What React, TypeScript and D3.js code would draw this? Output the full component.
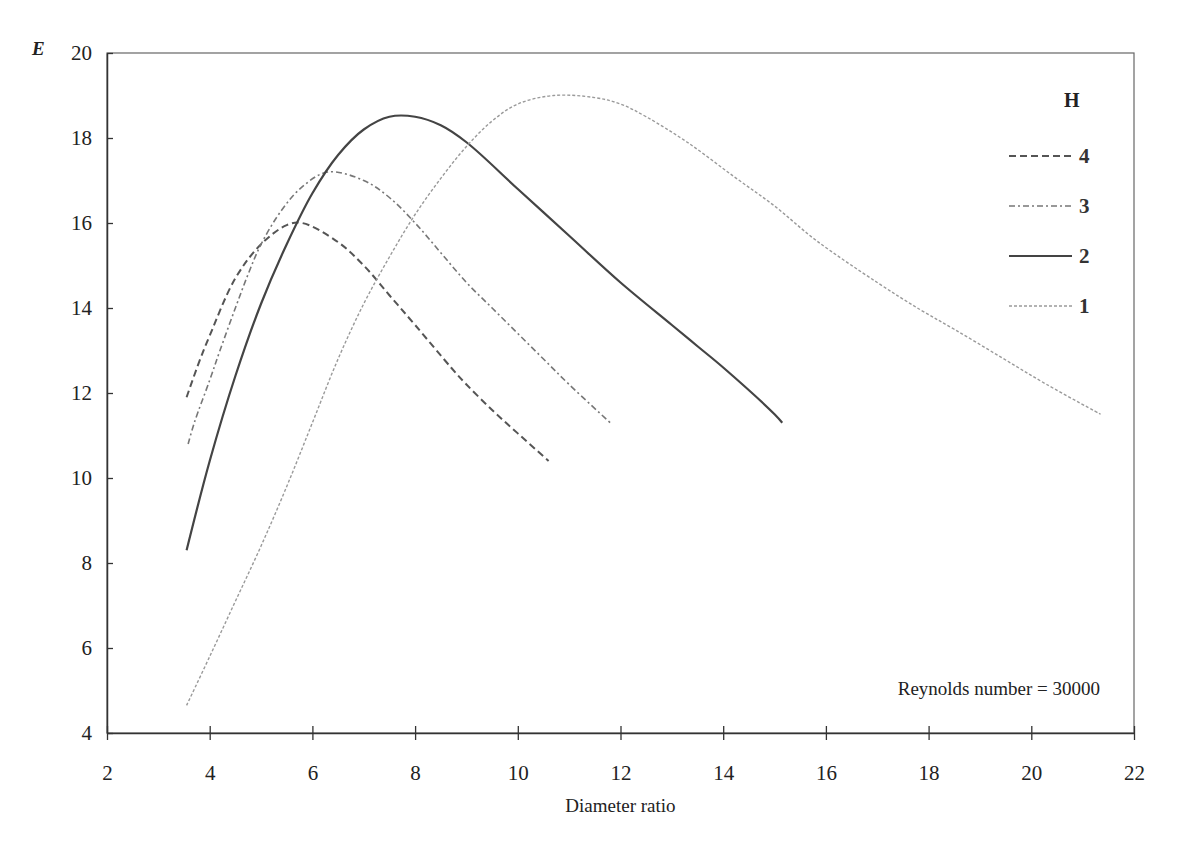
import { useEffect, useRef } from 'react';
import * as d3 from 'd3';

const W = 1185, H = 867;
const M = { left: 107, right: 51, top: 53, bottom: 134 };

// Diameter ratio / E readings per H curve
const h4X = [3.55, 3.8, 4.0, 4.5, 5.0, 5.5, 5.8, 6.5, 7.0, 7.5, 8.0, 8.7, 9.0, 9.5, 10.0, 10.6];
const h4Y = [11.9, 12.75, 13.35, 14.7, 15.5, 15.95, 16.0, 15.55, 15.0, 14.3, 13.6, 12.6, 12.2, 11.6, 11.05, 10.4];

const h3X = [3.58, 3.7, 4.0, 4.2, 4.5, 4.75, 5.0, 5.4, 5.8, 6.3, 7.0, 7.5, 8.0, 8.5, 9.0, 9.5, 10.0, 10.5, 11.0, 11.8];
const h3Y = [10.8, 11.3, 12.3, 13.0, 14.0, 14.8, 15.5, 16.3, 16.85, 17.2, 17.0, 16.6, 16.0, 15.3, 14.6, 14.0, 13.4, 12.8, 12.2, 11.3];

const h2X = [3.55, 4.0, 4.5, 5.0, 5.5, 6.0, 6.5, 7.0, 7.5, 8.0, 8.5, 9.0, 10.0, 11.0, 12.0, 13.0, 13.5, 14.0, 15.0, 15.15];
const h2Y = [8.3, 10.4, 12.4, 14.1, 15.5, 16.7, 17.6, 18.2, 18.5, 18.5, 18.3, 17.9, 16.8, 15.7, 14.6, 13.6, 13.1, 12.6, 11.5, 11.3];

const h1X = [3.55, 4.0, 4.5, 5.0, 5.5, 6.0, 6.5, 7.0, 7.5, 8.0, 8.5, 9.0, 9.5, 10.0, 10.7, 11.5, 12.0, 12.5, 13.3, 14.2, 15.0, 15.8, 17.0, 17.85, 18.5, 19.4, 20.3, 21.35];
const h1Y = [4.65, 5.8, 7.1, 8.4, 9.8, 11.3, 12.8, 14.1, 15.2, 16.2, 17.05, 17.8, 18.4, 18.8, 19.0, 18.95, 18.8, 18.5, 17.9, 17.1, 16.4, 15.6, 14.6, 13.95, 13.5, 12.85, 12.2, 11.5];

const xTicks = [2, 4, 6, 8, 10, 12, 14, 16, 18, 20, 22];
const yTicks = [4, 6, 8, 10, 12, 14, 16, 18, 20];

const series = [
  { name: '4', xs: h4X, ys: h4Y, color: '#555', width: 2, dash: '7,4' },
  { name: '3', xs: h3X, ys: h3Y, color: '#777', width: 1.6, dash: '6,3,2,3' },
  { name: '2', xs: h2X, ys: h2Y, color: '#444', width: 2.2, dash: null },
  { name: '1', xs: h1X, ys: h1Y, color: '#9a9a9a', width: 1.4, dash: '3,2' },
];

const FONT = '"Liberation Serif", "DejaVu Serif", serif';

export default function App() {
  const ref = useRef<SVGSVGElement>(null);

  useEffect(() => {
    const svg = d3.select(ref.current);
    svg.selectAll('*').remove();

    const x = d3.scaleLinear().domain([2, 22]).range([M.left, W - M.right]);
    const y = d3.scaleLinear().domain([4, 20]).range([H - M.bottom, M.top]);

    // frame
    svg.append('rect')
      .attr('x', x(2)).attr('y', y(20))
      .attr('width', x(22) - x(2)).attr('height', y(4) - y(20))
      .attr('fill', 'none').attr('stroke', '#666').attr('stroke-width', 1.2);

    // x axis
    const gx = svg.append('g')
      .attr('transform', `translate(0,${y(4)})`)
      .call(d3.axisBottom(x).tickValues(xTicks).tickSize(7).tickPadding(25).tickSizeOuter(0));
    gx.select('.domain').attr('stroke', '#333').attr('stroke-width', 1.5);
    gx.selectAll('.tick line').attr('y1', -7).attr('stroke', '#333').attr('stroke-width', 1.3);
    gx.selectAll('.tick text').attr('font-family', FONT).attr('font-size', 21).attr('fill', '#222');

    // y axis
    const gy = svg.append('g')
      .attr('transform', `translate(${x(2)},0)`)
      .call(d3.axisLeft(y).tickValues(yTicks).tickSize(6).tickPadding(9).tickSizeOuter(0));
    gy.select('.domain').attr('stroke', '#333').attr('stroke-width', 1.5);
    gy.selectAll('.tick line').attr('x2', 6).attr('stroke', '#333').attr('stroke-width', 1.3);
    gy.selectAll('.tick text').attr('font-family', FONT).attr('font-size', 21).attr('fill', '#222');

    // curves
    const line = d3.line<[number, number]>()
      .x((d) => x(d[0]))
      .y((d) => y(d[1]))
      .curve(d3.curveCatmullRom.alpha(0.5));

    series.forEach((s) => {
      const pts = s.xs.map((v, i) => [v, s.ys[i]] as [number, number]);
      svg.append('path')
        .attr('d', line(pts))
        .attr('fill', 'none')
        .attr('stroke', s.color)
        .attr('stroke-width', s.width)
        .attr('stroke-dasharray', s.dash);
    });

    // legend
    const lg = svg.append('g').attr('transform', 'translate(1009,0)');
    lg.append('text')
      .attr('x', 55).attr('y', 107)
      .attr('font-family', FONT).attr('font-size', 20).attr('font-weight', 'bold').attr('fill', '#222')
      .text('H');
    series.forEach((s, i) => {
      const yy = 156 + i * 50;
      lg.append('line')
        .attr('x1', 0).attr('x2', 63).attr('y1', yy).attr('y2', yy)
        .attr('stroke', s.color).attr('stroke-width', s.width)
        .attr('stroke-dasharray', s.dash);
      lg.append('text')
        .attr('x', 70).attr('y', yy + 7)
        .attr('font-family', FONT).attr('font-size', 21).attr('font-weight', 'bold').attr('fill', '#333')
        .text(s.name);
    });

    // labels
    svg.append('text')
      .attr('x', 32).attr('y', 55)
      .attr('font-family', FONT).attr('font-size', 19).attr('font-style', 'italic').attr('font-weight', 'bold')
      .attr('fill', '#222')
      .text('E');

    svg.append('text')
      .attr('x', (x(2) + x(22)) / 2).attr('y', 812)
      .attr('text-anchor', 'middle')
      .attr('font-family', FONT).attr('font-size', 19).attr('fill', '#222')
      .text('Diameter ratio');

    svg.append('text')
      .attr('x', 1100).attr('y', 695)
      .attr('text-anchor', 'end')
      .attr('font-family', FONT).attr('font-size', 19).attr('fill', '#222')
      .text('Reynolds number = 30000');
  }, []);

  return (
    <svg ref={ref} width={W} height={H} style={{ display: 'block', margin: -8, background: '#fff' }} />
  );
}
